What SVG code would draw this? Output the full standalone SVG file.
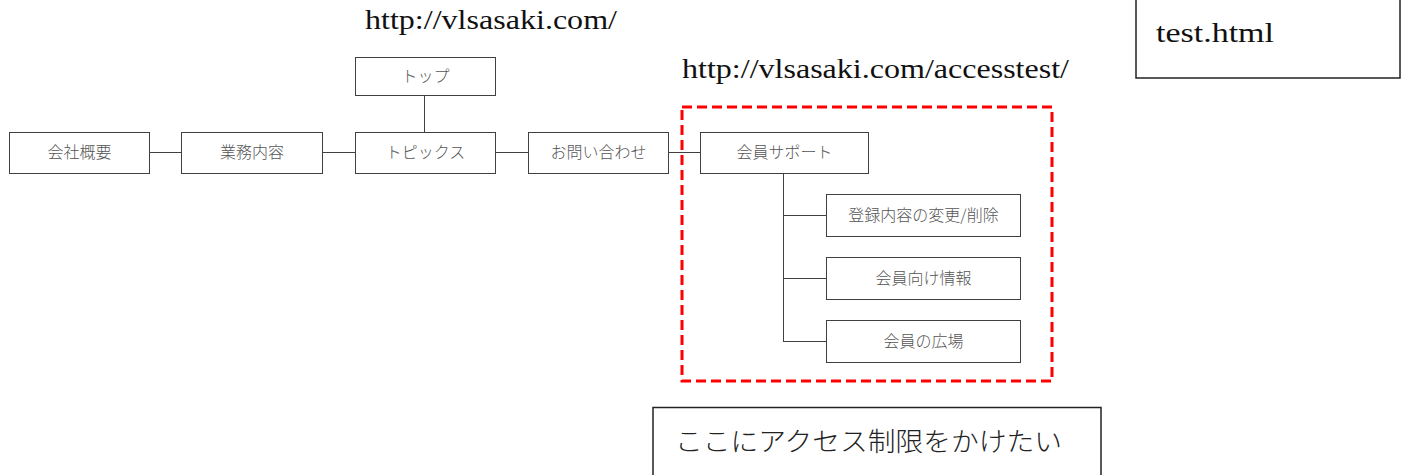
<svg xmlns="http://www.w3.org/2000/svg" width="1405" height="475" viewBox="0 0 1405 475">
<style>
.node rect{fill:#fff;stroke:#404040;stroke-width:1}
.node text{font-family:"Noto Sans CJK JP","Noto Sans",sans-serif;font-size:16px;font-weight:300;fill:#555;text-anchor:middle}
.conn line{stroke:#404040;stroke-width:1}
.url{font-family:"Liberation Serif","DejaVu Serif",serif;font-size:28px;fill:#111}
.note rect{fill:#fff;stroke:#222;stroke-width:1.5}
</style>
<rect width="1405" height="475" fill="#fff"/>
<text class="url" x="365" y="29" textLength="252" lengthAdjust="spacingAndGlyphs">http://vlsasaki.com/</text>
<text class="url" x="682" y="78" textLength="387" lengthAdjust="spacingAndGlyphs">http://vlsasaki.com/accesstest/</text>
<g id="note-top" class="note">
<rect x="1136" y="-5" width="264" height="83"/>
<text class="url" x="1156" y="42" textLength="118" lengthAdjust="spacingAndGlyphs">test.html</text>
</g>
<g id="restricted-area">
<rect x="682" y="107" width="370" height="274" fill="none" stroke="#ff0000" stroke-width="3" stroke-dasharray="10 5"/>
</g>
<g class="conn" id="connectors">
<line x1="149" y1="152.5" x2="181" y2="152.5"/>
<line x1="322" y1="152.5" x2="355" y2="152.5"/>
<line x1="495" y1="152.5" x2="528" y2="152.5"/>
<line x1="668" y1="152.5" x2="700" y2="152.5"/>
<line x1="424.5" y1="95" x2="424.5" y2="132"/>
<line x1="783.5" y1="173" x2="783.5" y2="341.5"/>
<line x1="783" y1="215.5" x2="826" y2="215.5"/>
<line x1="783" y1="278.5" x2="826" y2="278.5"/>
<line x1="783" y1="341.5" x2="826" y2="341.5"/>
</g>
<g id="n-top" class="node"><rect x="355.5" y="57.5" width="140" height="38"/><text x="425.5" y="82">トップ</text></g>
<g id="n-kaisha" class="node"><rect x="9.5" y="132.5" width="140" height="41"/><text x="79.5" y="158">会社概要</text></g>
<g id="n-gyomu" class="node"><rect x="181.5" y="132.5" width="141" height="41"/><text x="252" y="158">業務内容</text></g>
<g id="n-topics" class="node"><rect x="355.5" y="132.5" width="140" height="41"/><text x="425.5" y="158">トピックス</text></g>
<g id="n-toiawase" class="node"><rect x="528.5" y="132.5" width="140" height="41"/><text x="598.5" y="158">お問い合わせ</text></g>
<g id="n-support" class="node"><rect x="700.5" y="132.5" width="168" height="41"/><text x="784.5" y="158">会員サポート</text></g>
<g id="n-henko" class="node"><rect x="826.5" y="194.5" width="194" height="42"/><text x="923.5" y="221">登録内容の変更/削除</text></g>
<g id="n-joho" class="node"><rect x="826.5" y="257.5" width="194" height="42"/><text x="923.5" y="284">会員向け情報</text></g>
<g id="n-hiroba" class="node"><rect x="826.5" y="320.5" width="194" height="42"/><text x="923.5" y="347">会員の広場</text></g>
<g id="note-bottom" class="note">
<rect x="653" y="407.5" width="448" height="80"/>
<text x="675" y="451" font-family="Noto Sans CJK JP,sans-serif" font-size="26" font-weight="300" fill="#222" textLength="387" lengthAdjust="spacingAndGlyphs">ここにアクセス制限をかけたい</text>
</g>
</svg>
